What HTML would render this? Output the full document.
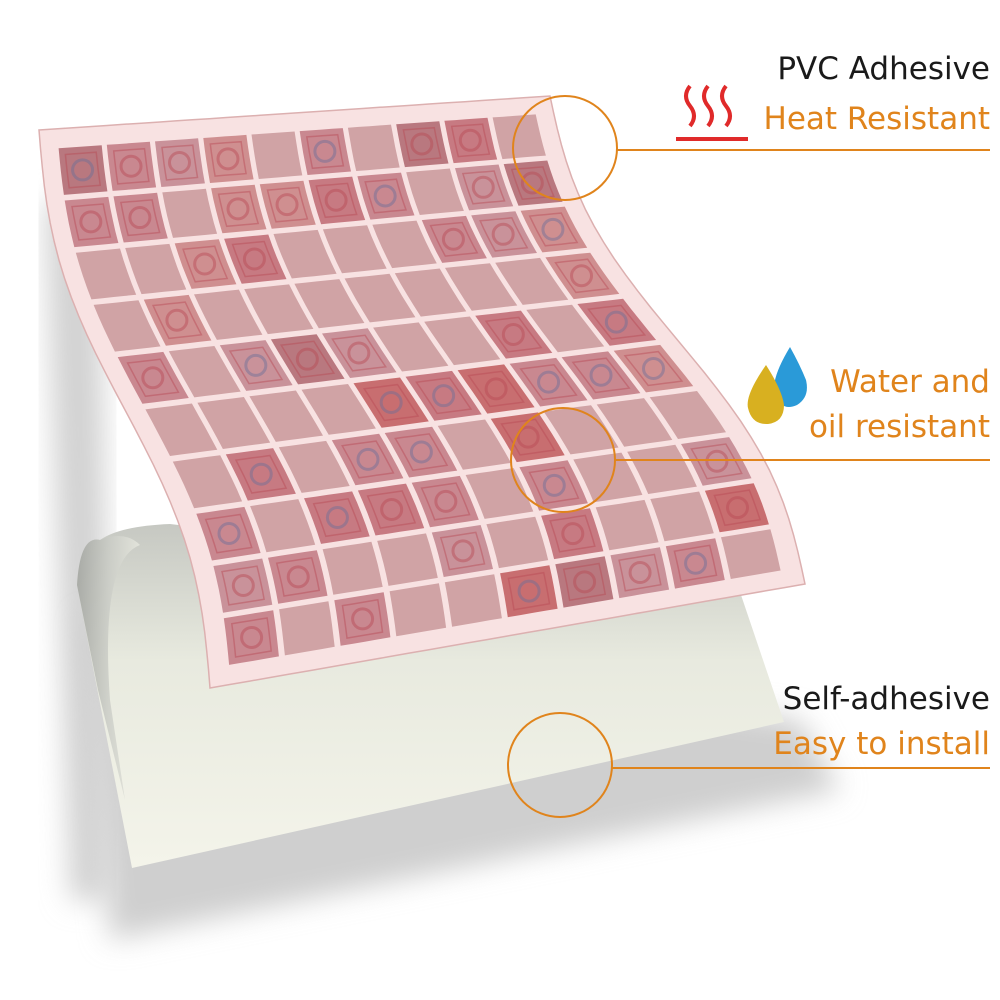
<!DOCTYPE html>
<html><head><meta charset="utf-8">
<style>
html,body{margin:0;padding:0;background:#fff;}
body{width:1000px;height:1000px;position:relative;overflow:hidden;font-family:"DejaVu Sans","Liberation Sans",sans-serif;}
.t{position:absolute;right:10px;font-size:31px;white-space:nowrap;line-height:1;}
.k{color:#1a1a1a}.o{color:#e0841c}
</style></head><body>
<svg id="s" width="1000" height="1000" style="position:absolute;left:0;top:0">
<defs>
<linearGradient id="pap" x1="0" y1="0" x2="0" y2="1"><stop offset="0" stop-color="#c6c8c2"/><stop offset="0.4" stop-color="#e8eadf"/><stop offset="1" stop-color="#f4f4ea"/></linearGradient>
<linearGradient id="curl" x1="0" x2="1"><stop offset="0" stop-color="#9fa19d"/><stop offset="0.5" stop-color="#c9cbc5"/><stop offset="1" stop-color="#e8e9e0"/></linearGradient>
<filter id="bl"><feGaussianBlur stdDeviation="14"/></filter>
</defs>
<path d="M45 200 L100 200 L110 900 L70 900 Z" fill="#d2d2d2" filter="url(#bl)"/>
<path d="M85 620 L110 940 L840 790 L800 720 Z" fill="#cfcfcf" filter="url(#bl)"/>
<path d="M77 585 Q80 535 100 540 Q120 526 170 524 L740 592 L784 722 L132 868 Z" fill="url(#pap)"/>
<path d="M77 585 Q80 535 100 540 Q125 530 140 545 Q100 560 110 700 L125 800 L98 690 Z" fill="url(#curl)" opacity="0.8"/>
<g id="sheet"></g>
<g fill="none" stroke="#e0841c" stroke-width="2">
<circle cx="565" cy="148" r="52"/><line x1="617" y1="150" x2="990" y2="150"/>
<circle cx="563" cy="460" r="52"/><line x1="615" y1="460" x2="990" y2="460"/>
<circle cx="560" cy="765" r="52"/><line x1="612" y1="768" x2="990" y2="768"/>
</g>
<g fill="none" stroke="#e02a2a" stroke-width="4">
<path d="M690 86 q-8 10 0 20 q8 10 0 20"/>
<path d="M708 86 q-8 10 0 20 q8 10 0 20"/>
<path d="M726 86 q-8 10 0 20 q8 10 0 20"/>
<line x1="676" y1="139" x2="748" y2="139"/>
</g>
<path d="M790 347 Q770 380 775 395 Q782 412 797 405 Q810 397 806 380 Q800 365 790 347Z" fill="#2a9ad8"/>
<path d="M766 365 Q745 395 748 408 Q752 425 768 424 Q784 422 784 405 Q782 390 766 365Z" fill="#d8b020"/>
</svg>
<div class="t k" style="top:54px">PVC Adhesive</div>
<div class="t o" style="top:104px">Heat Resistant</div>
<div class="t o" style="top:367px">Water and</div>
<div class="t o" style="top:412px">oil resistant</div>
<div class="t k" style="top:684px">Self-adhesive</div>
<div class="t o" style="top:729px">Easy to install</div>
<script>
var TL=[39,130],TR=[550,96],BR=[805,584],BL=[210,688];
function P(u,v){var x=(1-u)*(1-v)*TL[0]+u*(1-v)*TR[0]+u*v*BR[0]+(1-u)*v*BL[0];
var y=(1-u)*(1-v)*TL[1]+u*(1-v)*TR[1]+u*v*BR[1]+(1-u)*v*BL[1];
var A=20+(24-20)*u;x-=A*Math.sin(2*Math.PI*v);return [x,y];}
function poly(pts,f,extra){return '<polygon points="'+pts.map(function(p){return p[0].toFixed(1)+','+p[1].toFixed(1)}).join(' ')+'" fill="'+f+'" '+(extra||'')+'/>';}
var h='';
var edge=[];for(var i=0;i<=30;i++)edge.push(P(i/30,0));for(i=0;i<=30;i++)edge.push(P(1,i/30));for(i=30;i>=0;i--)edge.push(P(i/30,1));for(i=30;i>=0;i--)edge.push(P(0,i/30));
h+=poly(edge,'#f8e2e2','stroke="#dcb0b0" stroke-width="1.5"');
var seed=7;function r(){seed=(seed*9301+49297)%233280;return seed/233280;}
var m=0.03,g=0.005,N=10;
var deco=['#c77a82','#cf8f90','#c98890','#b9787f','#c86e70','#c9929a'];
function Q(u0,v0,u1,v1){var pts=[];var n=4;for(var i=0;i<=n;i++)pts.push(P(u0+(u1-u0)*i/n,v0));for(i=1;i<=n;i++)pts.push(P(u1,v0+(v1-v0)*i/n));for(i=n-1;i>=0;i--)pts.push(P(u0+(u1-u0)*i/n,v1));for(i=n-1;i>0;i--)pts.push(P(u0,v0+(v1-v0)*i/n));return pts;}
for(var a=0;a<N;a++)for(var b=0;b<N;b++){
var u0=m+(1-2*m)*b/N+g,u1=m+(1-2*m)*(b+1)/N-g,v0=m+(1-2*m)*a/N+g,v1=m+(1-2*m)*(a+1)/N-g;
var d=r()<0.55;
h+=poly(Q(u0,v0,u1,v1),d?deco[Math.floor(r()*6)]:'#d0a3a5');
if(d){var c=P((u0+u1)/2,(v0+v1)/2);
h+=poly(Q(u0+.012,v0+.012,u1-.012,v1-.012),'none','stroke="#b84a55" stroke-width="1.5" opacity="0.45"');
h+='<circle cx="'+c[0]+'" cy="'+c[1]+'" r="10" fill="none" stroke="'+(r()<0.3?'#6b6f9a':'#b84a55')+'" stroke-width="3" opacity="0.45"/>';}
}
document.getElementById('sheet').innerHTML=h;
</script>
</body></html>
